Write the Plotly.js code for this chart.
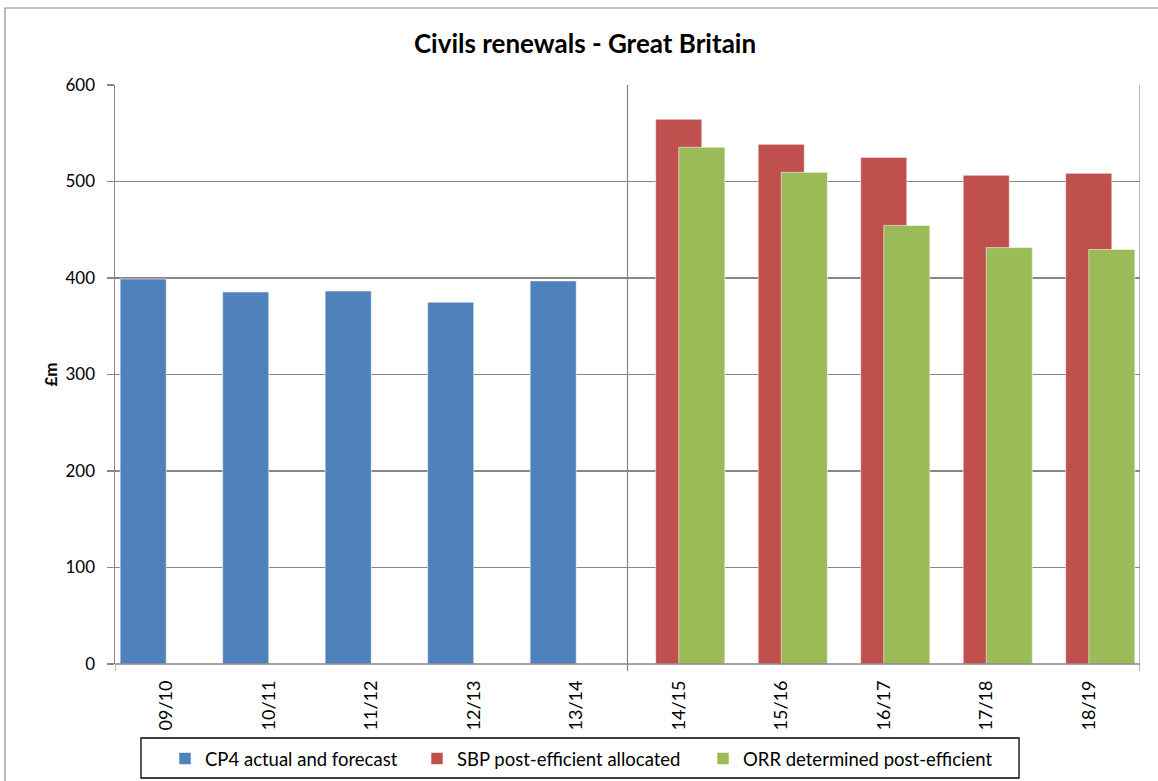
<!DOCTYPE html>
<html>
<head>
<meta charset="utf-8">
<script src="https://cdn.plot.ly/plotly-3.0.1.min.js"></script>
<style>html,body{margin:0;padding:0;background:#fff;}#chart{width:1158px;height:781px;}</style>
</head>
<body>
<div id="chart"></div>
<script>
const categories = ["09/10","10/11","11/12","12/13","13/14","14/15","15/16","16/17","17/18","18/19"];
const cp4Values = [399, 385.5, 386.5, 375, 397, null, null, null, null, null];
const sbpValues = [null, null, null, null, null, 564.5, 538.5, 525, 506.5, 508.5];
const orrValues = [null, null, null, null, null, 535.5, 509.5, 454.5, 431.5, 429.5];
const seriesNames = ["CP4 actual and forecast", "SBP post-efficient allocated", "ORR determined post-efficient"];

const FONT = "Lato, 'Open Sans', sans-serif";
const W = 0.45;
const edge = {color: "rgba(255,255,255,0.55)", width: 1};

const traces = [
  {type: "bar", name: seriesNames[0], x: categories, y: cp4Values, width: W, offset: -0.45,
   marker: {color: "#4F81BD", line: edge}, legend: "legend"},
  {type: "bar", name: seriesNames[1], x: categories, y: sbpValues, width: W, offset: -0.225,
   marker: {color: "#C0504D", line: edge}, legend: "legend2"},
  {type: "bar", name: seriesNames[2], x: categories, y: orrValues, width: W, offset: 0,
   marker: {color: "#9BBB59", line: edge}, legend: "legend3"}
];

const gridCol = "#868686";
const plotH = 579, plotW = 1025, mL = 115, mT = 85;
const px2x = p => (p - mL) / plotW;
const px2y = p => (mT + plotH - p) / plotH;

const shapes = [];
[4.5, 9.5].forEach(v => shapes.push({type: "line", xref: "x", yref: "paper", x0: v, x1: v, y0: 0, y1: 1,
  line: {color: gridCol, width: 1.2}, layer: "below"}));
[-0.5, 4.5, 9.5].forEach(v => shapes.push({type: "line", xref: "x", yref: "paper", x0: v, x1: v, y0: 0, y1: -7 / plotH,
  line: {color: gridCol, width: 1.2}}));
// outer chart border
shapes.push({type: "rect", xref: "paper", yref: "paper", x0: px2x(5), x1: px2x(1175), y0: px2y(800), y1: px2y(8),
  line: {color: "#8c8c8c", width: 1.2}, fillcolor: "rgba(0,0,0,0)", layer: "below"});
// legend box
shapes.push({type: "rect", xref: "paper", yref: "paper", x0: px2x(141), x1: px2x(1019), y0: px2y(778), y1: px2y(738),
  line: {color: "#000", width: 1.3}, fillcolor: "rgba(0,0,0,0)"});
// bottom axis line
shapes.push({type: "line", xref: "paper", yref: "paper", x0: 0, x1: 1, y0: 0, y1: 0,
  line: {color: gridCol, width: 1.5}});

function legendAt(px) {
  return {orientation: "h", x: px / 1158, xref: "container", xanchor: "left",
    y: 1 - 740 / 781, yref: "container", yanchor: "top",
    borderwidth: 0, bgcolor: "rgba(0,0,0,0)", font: {family: FONT, size: 18.5, color: "#000"},
    itemwidth: 30};
}

const layout = {
  width: 1158, height: 781,
  margin: {l: mL, r: 1158 - 1140, t: mT, b: 781 - 664},
  paper_bgcolor: "#fff", plot_bgcolor: "#fff",
  font: {family: FONT, size: 17, color: "#000"},
  title: {text: "<b>Civils renewals - Great Britain</b>", font: {family: FONT, size: 26, color: "#000"},
    x: 585 / 1158, xref: "container", xanchor: "center", y: 1 - 44 / 781, yref: "container", yanchor: "middle"},
  barmode: "overlay",
  showlegend: true,
  legend: legendAt(165),
  legend2: legendAt(417),
  legend3: legendAt(703),
  xaxis: {type: "category", range: [-0.5, 9.5], showgrid: false, zeroline: false,
    showline: false, ticks: "", tickangle: -90, ticklabelstandoff: 12,
    tickfont: {family: FONT, size: 18, color: "#000"}},
  yaxis: {range: [0, 600], dtick: 100, showgrid: true, gridcolor: gridCol, gridwidth: 1.2,
    zeroline: false, showline: true, linecolor: gridCol, linewidth: 1.5, mirror: false,
    ticks: "outside", ticklen: 7, tickcolor: gridCol, tickwidth: 1.2, ticklabelstandoff: 8,
    tickfont: {family: FONT, size: 17, color: "#000"},
    title: {text: "<b>£m</b>", font: {family: FONT, size: 17, color: "#000"}, standoff: 3}},
  shapes: shapes
};

Plotly.newPlot("chart", traces, layout, {displayModeBar: false, staticPlot: true});
</script>
</body>
</html>
